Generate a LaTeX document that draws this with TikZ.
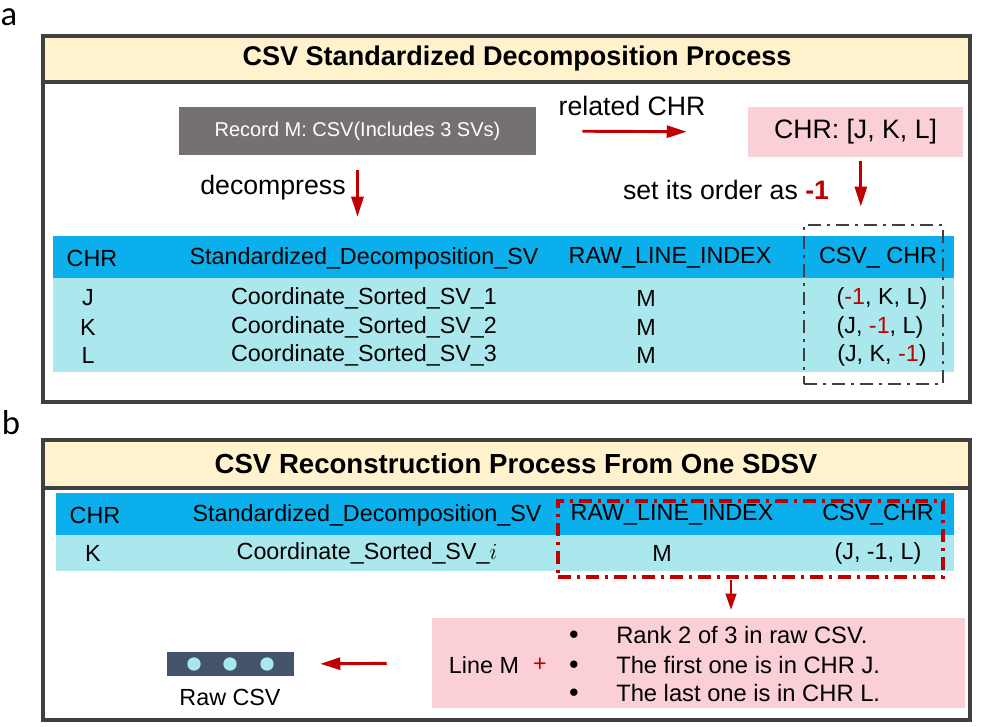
\documentclass[tikz,border=0pt]{standalone}
\usepackage{fontspec}
\setmainfont{Liberation Sans}
\newfontfamily\panelfont{Carlito}
\usepackage{tikz}
\usetikzlibrary{arrows.meta}
\definecolor{titlebg}{HTML}{FFF2CC}
\definecolor{frame}{HTML}{404040}
\definecolor{recgray}{HTML}{767171}
\definecolor{pinkbg}{HTML}{FBCFD6}
\definecolor{headblue}{HTML}{0AAFEC}
\definecolor{rowcyan}{HTML}{AAE8EE}
\definecolor{darkred}{HTML}{C00000}
\definecolor{slate}{HTML}{44546A}

\begin{document}
\begin{tikzpicture}[x=0.75pt,y=-0.75pt,
  panel/.style={draw=frame,line width=2.5pt},
  box/.style={rectangle,inner sep=0pt},
  txt/.style={inner sep=0pt,font=\fontsize{17.5}{20}\selectfont},
  big/.style={inner sep=0pt,font=\fontsize{20}{24}\selectfont},
  note/.style={inner sep=0pt,anchor=west,font=\fontsize{17.8}{20}\selectfont},
  redarrow/.style={draw=darkred,line width=2.2pt,-{Triangle[length=15pt,width=9pt]}},
  dashdot/.style={line width=2.2pt,dash pattern=on 9.75pt off 4.5pt on 2.25pt off 4.5pt}]

\useasboundingbox (0,0) rectangle (992,726);

% panel a
\node[inner sep=0pt,font=\panelfont\fontsize{26}{28}\selectfont] (la) at (9,17) {a};
\draw[fill=titlebg,draw=none] (43,36) rectangle (970,82);
\draw[panel] (43,82) -- (970,82);
\draw[panel] (43,36) rectangle (970,402);
\node[inner sep=0pt,font=\bfseries\fontsize{20.3}{24}\selectfont] (ta) at (517,58) {CSV Standardized Decomposition Process};

\node[box,fill=recgray,minimum width=267.75pt,minimum height=36pt,text=white,font=\fontsize{15}{18}\selectfont] (rec) at (357.5,131) {Record M: CSV(Includes 3 SVs)};
\node[box,fill=pinkbg,minimum width=161.25pt,minimum height=37.5pt,font=\fontsize{20}{24}\selectfont] (chr) at (855.5,132) {CHR: [J, K, L]};
\node[big] (rel) at (632,106) {related CHR};
\node[big] (dec) at (273,188) {decompress};
\node[big] (ord) at (726,190) {set its order as \textbf{\color{darkred}-1}};

\node[box,fill=headblue,minimum width=675.75pt,minimum height=31.5pt] (heada) at (503.5,257) {};
\node[box,fill=rowcyan,minimum width=675.75pt,minimum height=70.5pt] (rowsa) at (503.5,325) {};
\node[box,draw=frame,dashdot,minimum width=104.25pt,minimum height=119.25pt] (dasha) at (873.5,304.5) {};

\node[txt] (h1) at (92,258) {CHR};
\node[txt] (h2) at (364,258) {Standardized\_Decomposition\_SV};
\node[txt] (h3) at (670,258) {RAW\_LINE\_INDEX};
\node[txt] (h4) at (878,258) {CSV\_ CHR};

\node[txt] (c1) at (88,298) {J};
\node[txt] (c2) at (88,327) {K};
\node[txt] (c3) at (88,355) {L};
\node[txt] (s1) at (364,298) {Coordinate\_Sorted\_SV\_1};
\node[txt] (s2) at (364,327) {Coordinate\_Sorted\_SV\_2};
\node[txt] (s3) at (364,355) {Coordinate\_Sorted\_SV\_3};
\node[txt] (m1) at (646,298) {M};
\node[txt] (m2) at (646,327) {M};
\node[txt] (m3) at (646,355) {M};
\node[txt] (o1) at (882,298) {(\textcolor{darkred}{-1}, K, L)};
\node[txt] (o2) at (880,327) {(J, \textcolor{darkred}{-1}, L)};
\node[txt] (o3) at (882,355) {(J, K, \textcolor{darkred}{-1})};

\draw[redarrow,shorten <=34.5pt,shorten >=45.75pt] (rec.east) -- (chr.west);
\draw[redarrow,shorten <=11.25pt,shorten >=14.25pt] (rec.south) -- (heada.north -| rec.south);
\draw[redarrow,shorten <=3pt,shorten >=12.75pt] ([xshift=4pt]chr.south) -- ([xshift=4pt]chr.south |- dasha.north);

% panel b
\node[inner sep=0pt,font=\panelfont\fontsize{26}{28}\selectfont] (lb) at (11,423) {b};
\draw[fill=titlebg,draw=none] (43,440) rectangle (970,488);
\draw[panel] (43,488) -- (970,488);
\draw[panel] (43,440) rectangle (970,720);
\node[inner sep=0pt,font=\bfseries\fontsize{20.7}{24}\selectfont] (tb) at (516,464) {CSV Reconstruction Process From One SDSV};

\node[box,fill=headblue,minimum width=673.5pt,minimum height=31.5pt] (headb) at (505,514) {};
\node[box,fill=rowcyan,minimum width=673.5pt,minimum height=27pt] (rowb) at (505,553) {};

\node[txt] (g1) at (95,515) {CHR};
\node[txt] (g2) at (367,515) {Standardized\_Decomposition\_SV};
\node[txt] (g3) at (672,515) {RAW\_LINE\_INDEX};
\node[txt] (g4) at (878,515) {CSV\_CHR};
\node[txt] (k1) at (93,553) {K};
\node[txt] (k2) at (367,553) {Coordinate\_Sorted\_SV\_$i$};
\node[txt] (k3) at (662,553) {M};
\node[txt] (k4) at (878,553) {(J, -1, L)};

\node[box,draw=darkred,dashdot,line width=2.4pt,minimum width=288.75pt,minimum height=57pt] (redb) at (750.5,539) {};

\node[box,fill=pinkbg,minimum width=399.75pt,minimum height=67.5pt] (pink) at (698.5,663) {};
\node[txt] (line) at (484,665) {Line M};
\node[txt,text=darkred] (plus) at (540,665) {+};
\node[txt,font=\fontsize{14}{16}\selectfont] (d1) at (574,635) {$\bullet$};
\node[txt,font=\fontsize{14}{16}\selectfont] (d2) at (574,665) {$\bullet$};
\node[txt,font=\fontsize{14}{16}\selectfont] (d3) at (574,693) {$\bullet$};
\node[note] (r1) at (616,635) {Rank 2 of 3 in raw CSV.};
\node[note] (r2) at (616,665) {The first one is in CHR J.};
\node[note] (r3) at (616,693) {The last one is in CHR L.};

\node[box,fill=slate,minimum width=95.25pt,minimum height=18pt] (raw) at (230.5,664) {};
\foreach \x in {194,230,267}
  \fill[rowcyan] (\x,664) circle (5pt);
\node[txt] (rawl) at (230,697) {Raw CSV};

\coordinate (dn) at (731,580);
\draw[draw=darkred,line width=1.5pt,-{Triangle[length=12pt,width=8pt]},shorten >=6pt] (dn) -- (dn |- pink.north);
\draw[redarrow,shorten <=33.75pt,shorten >=19.5pt] (pink.west) -- (raw.east);
\end{tikzpicture}
\end{document}
